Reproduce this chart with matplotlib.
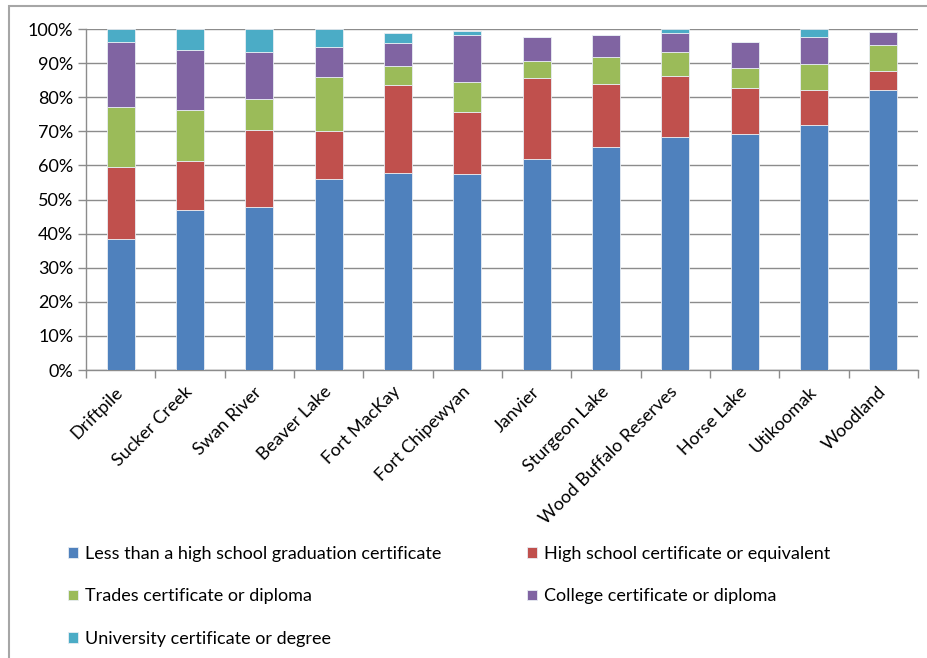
import matplotlib.pyplot as plt
import numpy as np
from matplotlib.patches import Rectangle

communities = [
    "Driftpile", "Sucker Creek", "Swan River", "Beaver Lake", "Fort MacKay",
    "Fort Chipewyan", "Janvier", "Sturgeon Lake", "Wood Buffalo Reserves",
    "Horse Lake", "Utikoomak", "Woodland",
]
less_than_hs = [38.4, 46.8, 47.7, 56.1, 57.7, 57.6, 61.9, 65.5, 68.2, 69.3, 71.8, 82.2]
high_school = [21.2, 14.6, 22.8, 14.1, 25.9, 18.0, 23.8, 18.5, 17.9, 13.5, 10.4, 5.6]
trades = [17.5, 14.7, 9.1, 15.8, 5.5, 8.9, 4.9, 7.8, 7.1, 5.8, 7.6, 7.6]
college = [19.2, 17.6, 13.6, 8.8, 6.9, 13.6, 7.2, 6.4, 5.5, 7.7, 7.8, 3.7]
university = [3.7, 6.3, 6.8, 5.2, 2.7, 1.4, 0.0, 0.0, 1.3, 0.0, 2.4, 0.0]

series_names = [
    "Less than a high school graduation certificate",
    "High school certificate or equivalent",
    "Trades certificate or diploma",
    "College certificate or diploma",
    "University certificate or degree",
]
series_values = [less_than_hs, high_school, trades, college, university]
colors = ["#4F81BD", "#C0504D", "#9BBB59", "#8064A2", "#4BACC6"]

plt.rcParams["font.family"] = ["Lato", "DejaVu Sans"]

fig = plt.figure(figsize=(9.28, 6.58), dpi=100)
ax = fig.add_axes([86 / 928, 1 - 370 / 658, (918 - 86) / 928, (370 - 29) / 658])

# outer chart border
fig.add_artist(Rectangle((9 / 928, -0.05), 1.1, 1 - 6 / 658 + 0.05, transform=fig.transFigure,
                         fill=False, edgecolor="#a6a6a6", linewidth=1.5))

x = np.arange(len(communities))
bottom = np.zeros(len(communities))
handles = []
for name, vals, col in zip(series_names, series_values, colors):
    v = np.asarray(vals)
    h = ax.bar(x, v, width=0.4, bottom=bottom, color=col, edgecolor="#e8edf3",
               linewidth=0.6, label=name, zorder=3)
    handles.append(h)
    bottom += v

ax.set_xlim(-0.5, len(communities) - 0.5)
ax.set_ylim(0, 100)
ax.set_yticks(np.arange(0, 101, 10))
ax.set_yticklabels([f"{t}%" for t in range(0, 101, 10)], fontsize=13)
ax.yaxis.grid(True, color="#8c8c8c", linewidth=1.0, zorder=0)

ax.set_xticks(x)
ax.set_xticklabels(communities, rotation=45, ha="right", va="center",
                   rotation_mode="anchor", fontsize=13)
ax.tick_params(axis="x", length=0, pad=14)
ax.set_xticks(np.arange(-0.5, len(communities), 1.0), minor=True)
ax.tick_params(axis="x", which="minor", length=6, color="#8c8c8c", width=1)
ax.tick_params(axis="y", length=6, color="#8c8c8c", width=1, pad=3)

for side in ("top", "right"):
    ax.spines[side].set_visible(False)
for side in ("left", "bottom"):
    ax.spines[side].set_color("#8c8c8c")
    ax.spines[side].set_linewidth(1.0)

# legend in reading order: two columns
order = [0, 2, 4, 1, 3]
leg = fig.legend([handles[i] for i in order], [series_names[i] for i in order],
                 loc="upper left", bbox_to_anchor=(52 / 928, 1 - 530 / 658), ncol=2,
                 frameon=False, fontsize=13, handlelength=0.55, handleheight=0.55,
                 handletextpad=0.4, columnspacing=4.7, labelspacing=1.45)

fig.savefig("out.png", dpi=100)
